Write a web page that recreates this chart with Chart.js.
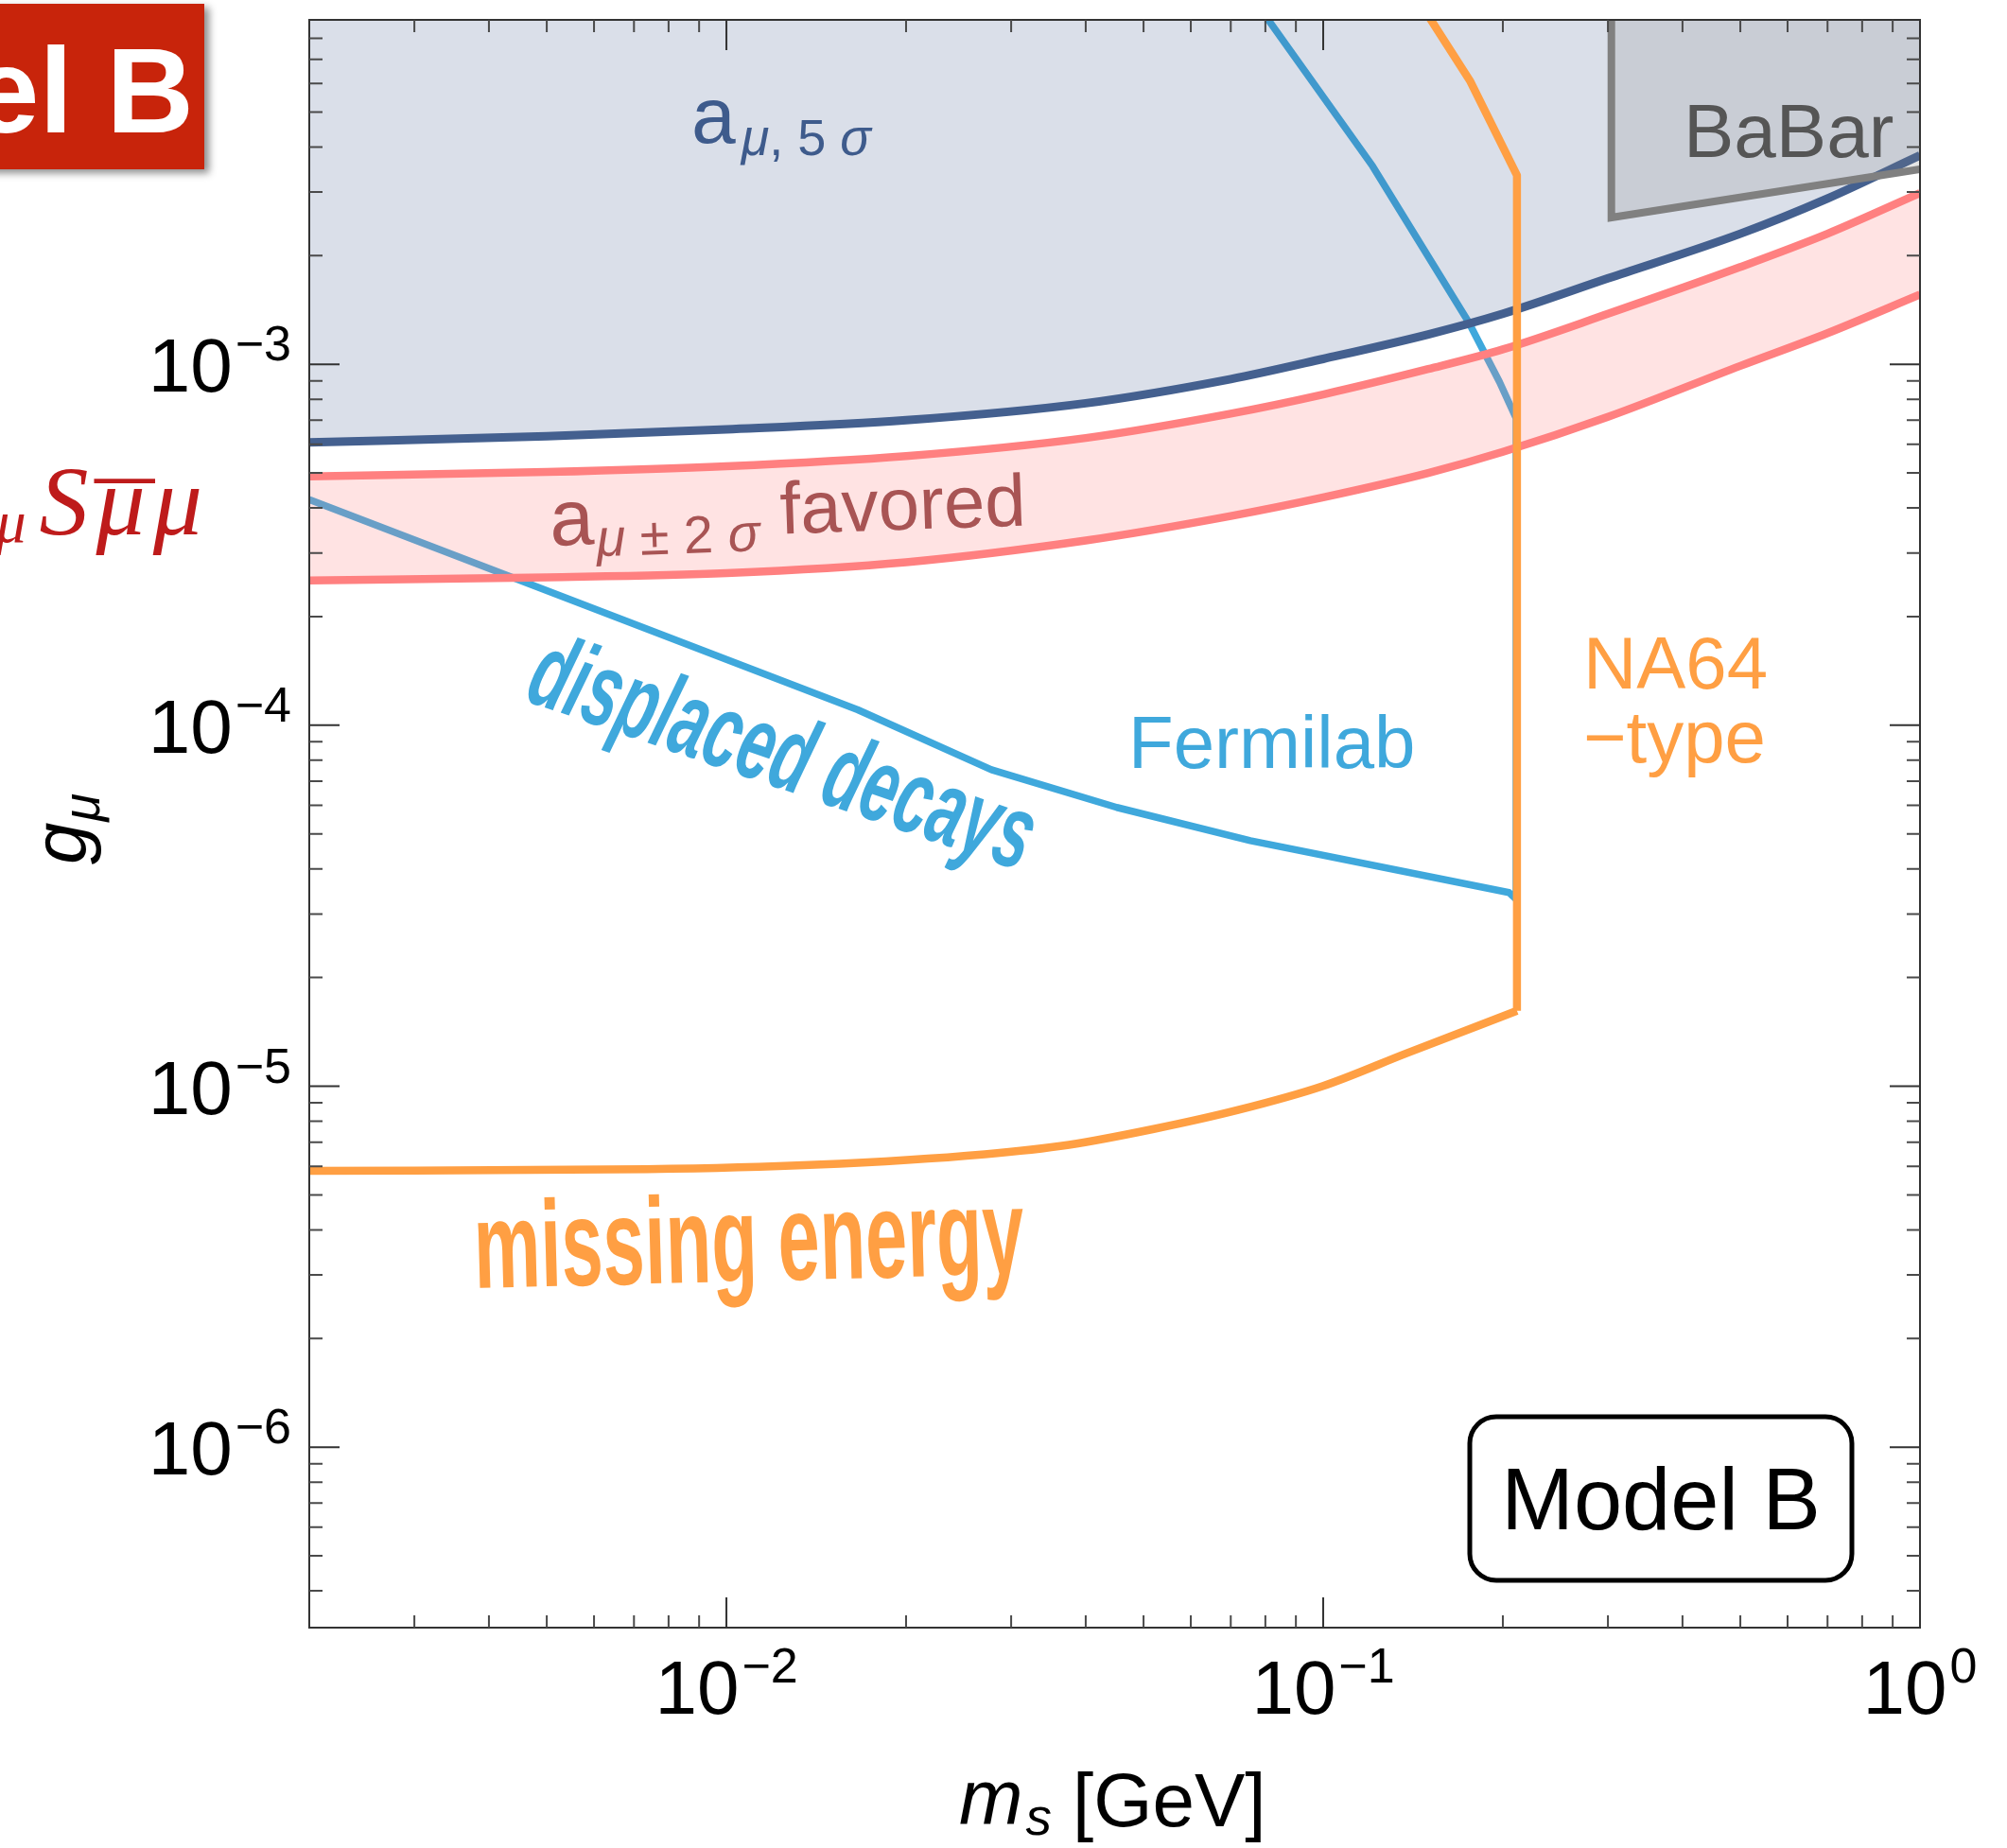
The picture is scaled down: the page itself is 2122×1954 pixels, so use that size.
<!DOCTYPE html>
<html>
<head>
<meta charset="utf-8">
<script src="https://cdn.jsdelivr.net/npm/chart.js@4.4.1/dist/chart.umd.min.js"></script>
<style>
html,body{margin:0;padding:0;background:#ffffff;}
canvas{display:block;}
</style>
</head>
<body>
<canvas id="c" width="2122" height="1954" style="width:2122px;height:1954px"></canvas>
<script>
// ---------------- data ----------------
// scalar mass m_s [GeV] grid for the g-2 curves
const gridMass   = [0.002, 0.005, 0.01, 0.02, 0.04, 0.07, 0.1, 0.15, 0.2, 0.3, 0.5, 0.7, 1.0];
// a_mu 5 sigma exclusion boundary (g_mu)
const g5sigma    = [6.08e-4, 6.32e-4, 6.6e-4, 7.0e-4, 7.8e-4, 9.1e-4, 1.035e-3, 1.21e-3, 1.38e-3, 1.73e-3, 2.30e-3, 2.88e-3, 3.79e-3];
// a_mu +-2 sigma favoured band
const gFavUpper  = [4.89e-4, 5.03e-4, 5.22e-4, 5.57e-4, 6.25e-4, 7.3e-4, 8.25e-4, 9.7e-4, 1.10e-3, 1.38e-3, 1.86e-3, 2.30e-3, 2.98e-3];
const gFavLower  = [2.52e-4, 2.57e-4, 2.64e-4, 2.83e-4, 3.25e-4, 3.8e-4, 4.28e-4, 5.0e-4, 5.72e-4, 7.15e-4, 9.9e-4, 1.22e-3, 1.56e-3];
// Fermilab displaced-decay contour
const fermilabMass = [0.002, 0.0166, 0.0278, 0.0451, 0.0755, 0.2048, 0.2105, 0.2105, 0.1974, 0.1753, 0.121, 0.078];
const fermilabG    = [4.22e-4, 1.104e-4, 7.53e-5, 5.92e-5, 4.79e-5, 3.44e-5, 3.3e-5, 7.09e-4, 8.94e-4, 1.308e-3, 3.54e-3, 9.8e-3];
// NA64-type missing energy contour (lower curve + upper edge)
const na64LowMass  = [0.002, 0.00735, 0.0141, 0.0271, 0.0375, 0.052, 0.072, 0.0997, 0.138, 0.2112];
const na64LowG     = [5.83e-6, 5.89e-6, 6.06e-6, 6.48e-6, 6.88e-6, 7.61e-6, 8.59e-6, 1.0e-5, 1.234e-5, 1.618e-5];
const na64HighMass = [0.2112, 0.2112, 0.1761, 0.1466];
const na64HighG    = [1.618e-5, 3.34e-3, 6.11e-3, 9.8e-3];
// BaBar excluded region boundary
const babarMass = [0.304, 0.304, 1.0];
const babarG    = [0.012, 2.55e-3, 3.47e-3];
// axis tick labels
const xMajorTicks    = [0.01, 0.1, 1];
const xTickExponents = ['\u22122', '\u22121', '0'];
const yMajorTicks    = [1e-6, 1e-5, 1e-4, 1e-3];
const yTickExponents = ['\u22126', '\u22125', '\u22124', '\u22123'];

// ---------------- helpers ----------------
const SANS  = '"Liberation Sans", Arial, Helvetica, sans-serif';
const SERIF = '"Liberation Serif", "Times New Roman", serif';

function pts(xs, ys) { return xs.map((x, i) => ({ x: x, y: ys[i] })); }

function piecesWidth(ctx, pieces) {
  let w = 0;
  for (const p of pieces) { ctx.font = p.font; w += (p.gap || 0) + ctx.measureText(p.text).width; }
  return w;
}
function drawPieces(ctx, x, y, pieces, color) {
  let cx = x;
  const pos = [];
  ctx.textAlign = 'left';
  ctx.textBaseline = 'alphabetic';
  for (const p of pieces) {
    ctx.font = p.font;
    ctx.fillStyle = p.color || color;
    cx += (p.gap || 0);
    ctx.fillText(p.text, cx, y + (p.dy || 0));
    const w = ctx.measureText(p.text).width;
    pos.push({ x: cx, w: w });
    cx += w;
  }
  return pos;
}
function powerPieces(exp) {
  return [
    { text: '10', font: '80px ' + SANS },
    { text: exp, font: '52px ' + SANS, dy: -33, gap: 3 }
  ];
}

function minorTicks(min, max) {
  const out = [];
  for (let e = -8; e <= 1; e++) {
    for (let k = 2; k <= 9; k++) {
      const v = k * Math.pow(10, e);
      if (v > min * 1.0001 && v < max * 0.9999) out.push(v);
    }
  }
  return out;
}

const X_MIN = 0.002, X_MAX = 1.0;
const Y_MIN = 3.1623e-7, Y_MAX = 0.009;

const decorPlugin = {
  id: 'decor',
  afterDatasetsDraw(chart) {
    const ctx = chart.ctx;
    const area = chart.chartArea;
    const xs = chart.scales.x, ys = chart.scales.y;
    ctx.save();

    // ---- frame ----
    ctx.strokeStyle = '#333333';
    ctx.lineWidth = 2;
    ctx.strokeRect(area.left, area.top, area.right - area.left, area.bottom - area.top);

    // ---- ticks (inward, all four sides) ----
    const majLen = 32, minLen = 14;
    ctx.lineWidth = 2;
    for (const v of minorTicks(X_MIN, X_MAX)) {
      const px = xs.getPixelForValue(v);
      ctx.strokeStyle = '#4a4a4a';
      ctx.beginPath();
      ctx.moveTo(px, area.bottom); ctx.lineTo(px, area.bottom - 13);
      ctx.moveTo(px, area.top); ctx.lineTo(px, area.top + 13);
      ctx.stroke();
    }
    for (const v of xMajorTicks) {
      const px = xs.getPixelForValue(v);
      if (px > area.right - 1) continue;
      ctx.strokeStyle = '#333333';
      ctx.beginPath();
      ctx.moveTo(px, area.bottom); ctx.lineTo(px, area.bottom - majLen);
      ctx.moveTo(px, area.top); ctx.lineTo(px, area.top + majLen);
      ctx.stroke();
    }
    for (const v of minorTicks(Y_MIN, Y_MAX)) {
      const py = ys.getPixelForValue(v);
      ctx.strokeStyle = '#4a4a4a';
      ctx.beginPath();
      ctx.moveTo(area.left, py); ctx.lineTo(area.left + minLen, py);
      ctx.moveTo(area.right, py); ctx.lineTo(area.right - minLen, py);
      ctx.stroke();
    }
    for (const v of yMajorTicks) {
      const py = ys.getPixelForValue(v);
      ctx.strokeStyle = '#333333';
      ctx.beginPath();
      ctx.moveTo(area.left, py); ctx.lineTo(area.left + majLen, py);
      ctx.moveTo(area.right, py); ctx.lineTo(area.right - majLen, py);
      ctx.stroke();
    }

    // ---- tick labels ----
    xMajorTicks.forEach((v, i) => {
      const px = xs.getPixelForValue(v);
      const pcs = powerPieces(xTickExponents[i]);
      const w = piecesWidth(ctx, pcs);
      drawPieces(ctx, px - w / 2, area.bottom + 91, pcs, '#000000');
    });
    yMajorTicks.forEach((v, i) => {
      const py = ys.getPixelForValue(v);
      const pcs = powerPieces(yTickExponents[i]);
      const w = piecesWidth(ctx, pcs);
      drawPieces(ctx, 308 - w, py + 29, pcs, '#000000');
    });

    // ---- axis titles ----
    drawPieces(ctx, 1014, 1928, [
      { text: 'm', font: 'italic 81px ' + SANS },
      { text: 's', font: 'italic 55px ' + SANS, dy: 12, gap: 3 },
      { text: '[GeV]', font: '80px ' + SANS, dy: 3, gap: 22 }
    ], '#000000');
    ctx.save();
    ctx.translate(90, 914);
    ctx.rotate(-Math.PI / 2);
    drawPieces(ctx, 0, 0, [
      { text: 'g', font: 'italic 80px ' + SANS },
      { text: '\u03bc', font: 'italic 54px ' + SANS, dy: 15, gap: 1 }
    ], '#000000');
    ctx.restore();

    // ---- region labels ----
    drawPieces(ctx, 731, 151, [
      { text: 'a', font: '84px ' + SANS },
      { text: '\u03bc', font: 'italic 54px ' + SANS, dy: 13, gap: 6 },
      { text: ', 5 ', font: '54px ' + SANS, dy: 13 },
      { text: '\u03c3', font: 'italic 54px ' + SANS, dy: 13 }
    ], '#3E5B8C');

    ctx.save();
    ctx.translate(582, 577);
    ctx.rotate(-2 * Math.PI / 180);
    drawPieces(ctx, 0, 0, [
      { text: 'a', font: '84px ' + SANS },
      { text: '\u03bc', font: 'italic 56px ' + SANS, dy: 13, gap: 2 },
      { text: ' \u00b1 2 ', font: '56px ' + SANS, dy: 13 },
      { text: '\u03c3', font: 'italic 56px ' + SANS, dy: 13 },
      { text: 'favored', font: '78px ' + SANS, dy: -4, gap: 22 }
    ], '#A85454');
    ctx.restore();

    drawPieces(ctx, 1193, 812, [{ text: 'Fermilab', font: '78px ' + SANS }], '#3FA8DC');
    drawPieces(ctx, 1674, 728, [{ text: 'NA64', font: '78px ' + SANS }], '#FF9F43');
    drawPieces(ctx, 1674, 806, [{ text: '\u2212type', font: '78px ' + SANS }], '#FF9F43');
    drawPieces(ctx, 1780, 166, [{ text: 'BaBar', font: '80px ' + SANS }], '#555555');

    // hand-written style labels
    ctx.save();
    ctx.translate(553, 740);
    ctx.rotate(19 * Math.PI / 180);
    ctx.scale(0.6, 1);
    ctx.font = 'italic bold 112px ' + SANS;
    ctx.fillStyle = '#3FA8DC';
    ctx.textAlign = 'left';
    ctx.fillText('displaced decays', 0, 0);
    ctx.restore();

    ctx.save();
    ctx.translate(502, 1362);
    ctx.rotate(-1.5 * Math.PI / 180);
    ctx.scale(0.61, 1);
    ctx.font = 'bold 130px ' + SANS;
    ctx.fillStyle = '#FF9F43';
    ctx.textAlign = 'left';
    ctx.fillText('missing energy', 0, 0);
    ctx.restore();

    // ---- "Model B" box ----
    ctx.beginPath();
    ctx.roundRect(1554, 1498, 404, 173, 28);
    ctx.fillStyle = '#ffffff';
    ctx.fill();
    ctx.lineWidth = 5;
    ctx.strokeStyle = '#000000';
    ctx.stroke();
    ctx.font = '92px ' + SANS;
    ctx.fillStyle = '#000000';
    ctx.textAlign = 'center';
    ctx.fillText('Model B', 1756, 1617);

    // ---- red banner (cut at the left edge) ----
    ctx.save();
    ctx.shadowColor = 'rgba(0,0,0,0.45)';
    ctx.shadowBlur = 8;
    ctx.shadowOffsetX = 5;
    ctx.shadowOffsetY = 4;
    ctx.fillStyle = '#C8240B';
    ctx.fillRect(-40, 4, 256, 175);
    ctx.restore();
    ctx.font = 'bold 128px ' + SANS;
    ctx.fillStyle = '#ffffff';
    ctx.textAlign = 'right';
    ctx.fillText('Model B', 205, 140);

    // ---- red Lagrangian term g_mu S mubar mu (cut at the left edge) ----
    const lag = [
      { text: 'g', font: 'italic 104px ' + SERIF },
      { text: '\u03bc', font: 'italic 64px ' + SERIF, dy: 8, gap: 2 },
      { text: 'S', font: 'italic 104px ' + SERIF, gap: 14 },
      { text: '\u03bc', font: 'italic 104px ' + SERIF, gap: 8 },
      { text: '\u03bc', font: 'italic 104px ' + SERIF, gap: 8 }
    ];
    const lw = piecesWidth(ctx, lag);
    const lpos = drawPieces(ctx, 214 - lw, 565, lag, '#BE1B1B');
    // macron over the first mu after S
    const mb = lpos[3];
    ctx.save();
    ctx.translate(mb.x + mb.w / 2 + 4, 585);
    ctx.scale(1.2, 1);
    ctx.font = '104px ' + SERIF;
    ctx.fillStyle = '#BE1B1B';
    ctx.textAlign = 'center';
    ctx.fillText('\u00af', 0, 0);
    ctx.restore();

    ctx.restore();
  }
};

const lineBase = { showLine: true, pointRadius: 0, pointHoverRadius: 0, borderJoinStyle: 'round', borderCapStyle: 'butt' };

new Chart(document.getElementById('c'), {
  type: 'scatter',
  data: {
    datasets: [
      Object.assign({}, lineBase, {
        label: 'Fermilab', data: pts(fermilabMass, fermilabG),
        borderColor: '#3FA8DC', borderWidth: 7.5, fill: false, tension: 0, order: 10
      }),
      Object.assign({}, lineBase, {
        label: 'a_mu 5 sigma', data: pts(gridMass, g5sigma),
        borderColor: '#44608F', borderWidth: 9, fill: 'end',
        backgroundColor: 'rgba(68,96,143,0.2)', cubicInterpolationMode: 'monotone', order: 9
      }),
      Object.assign({}, lineBase, {
        label: 'favored lower', data: pts(gridMass, gFavLower),
        borderColor: '#FF8080', borderWidth: 8.5, fill: false,
        cubicInterpolationMode: 'monotone', order: 7
      }),
      Object.assign({}, lineBase, {
        label: 'favored upper', data: pts(gridMass, gFavUpper),
        borderColor: '#FF8080', borderWidth: 8.5, fill: { target: 2 },
        backgroundColor: 'rgba(255,128,128,0.22)', cubicInterpolationMode: 'monotone', order: 8
      }),
      Object.assign({}, lineBase, {
        label: 'BaBar', data: pts(babarMass, babarG),
        borderColor: '#808080', borderWidth: 8, fill: 'end',
        backgroundColor: 'rgba(128,128,128,0.2)', tension: 0, order: 5, borderJoinStyle: 'miter'
      }),
      Object.assign({}, lineBase, {
        label: 'NA64 missing energy', data: pts(na64LowMass, na64LowG),
        borderColor: '#FF9F43', borderWidth: 8.5, fill: false,
        cubicInterpolationMode: 'monotone', order: 3
      }),
      Object.assign({}, lineBase, {
        label: 'NA64 edge', data: pts(na64HighMass, na64HighG),
        borderColor: '#FF9F43', borderWidth: 8.5, fill: false, tension: 0, order: 2
      })
    ]
  },
  options: {
    responsive: false,
    animation: false,
    events: [],
    devicePixelRatio: 1,
    layout: { padding: { left: 327, top: 21, right: 92, bottom: 233 } },
    scales: {
      x: { type: 'logarithmic', min: X_MIN, max: X_MAX, display: false },
      y: { type: 'logarithmic', min: Y_MIN, max: Y_MAX, display: false }
    },
    plugins: {
      legend: { display: false },
      tooltip: { enabled: false },
      filler: { drawTime: 'beforeDatasetDraw', propagate: false }
    }
  },
  plugins: [decorPlugin]
});
</script>
</body>
</html>
